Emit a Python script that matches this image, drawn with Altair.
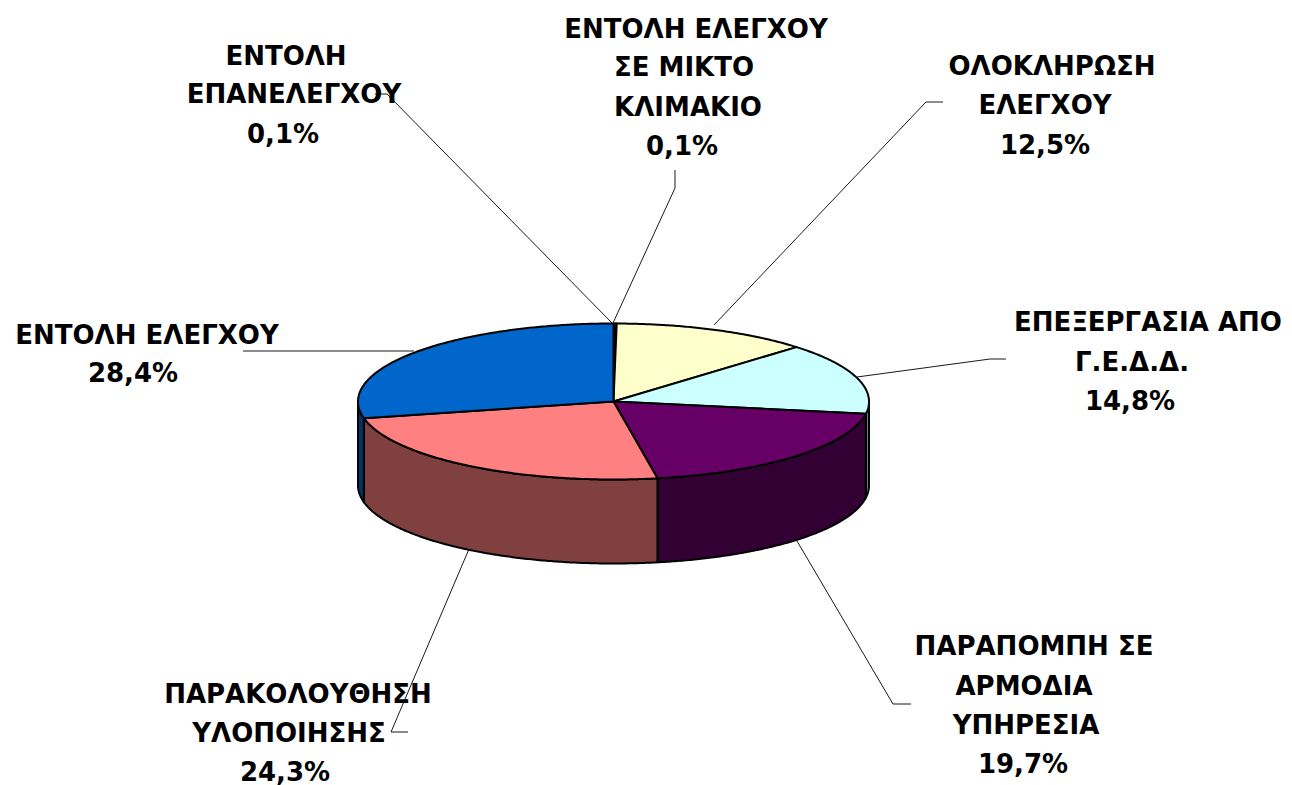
import numpy as np
import pandas as pd
import altair as alt

# ---- data (clockwise from 12 o'clock) ----
categories = ["ΕΝΤΟΛΗ ΕΠΑΝΕΛΕΓΧΟΥ", "ΕΝΤΟΛΗ ΕΛΕΓΧΟΥ ΣΕ ΜΙΚΤΟ ΚΛΙΜΑΚΙΟ", "ΟΛΟΚΛΗΡΩΣΗ ΕΛΕΓΧΟΥ",
              "ΕΠΕΞΕΡΓΑΣΙΑ ΑΠΟ Γ.Ε.Δ.Δ.", "ΠΑΡΑΠΟΜΠΗ ΣΕ ΑΡΜΟΔΙΑ ΥΠΗΡΕΣΙΑ",
              "ΠΑΡΑΚΟΛΟΥΘΗΣΗ ΥΛΟΠΟΙΗΣΗΣ", "ΕΝΤΟΛΗ ΕΛΕΓΧΟΥ"]
values = [0.1, 0.1, 12.5, 14.8, 19.7, 24.3, 28.4]
top_colors = ["#9999FF", "#993366", "#FFFFCC", "#CCFFFF", "#660066", "#FF8080", "#0066CC"]
side_colors = ["#4D4D80", "#4D1A33", "#808066", "#668080", "#330033", "#804040", "#003366"]

# ---- label text and layout (page pixels) ----
label_text = ["ΕΝΤΟΛΗ", "ΕΠΑΝΕΛΕΓΧΟΥ", "0,1%",
              "ΕΝΤΟΛΗ ΕΛΕΓΧΟΥ", "ΣΕ ΜΙΚΤΟ", "ΚΛΙΜΑΚΙΟ", "0,1%",
              "ΟΛΟΚΛΗΡΩΣΗ", "ΕΛΕΓΧΟΥ", "12,5%",
              "ΕΠΕΞΕΡΓΑΣΙΑ ΑΠΟ", "Γ.Ε.Δ.Δ.", "14,8%",
              "ΠΑΡΑΠΟΜΠΗ ΣΕ", "ΑΡΜΟΔΙΑ", "ΥΠΗΡΕΣΙΑ", "19,7%",
              "ΠΑΡΑΚΟΛΟΥΘΗΣΗ", "ΥΛΟΠΟΙΗΣΗΣ", "24,3%",
              "ΕΝΤΟΛΗ ΕΛΕΓΧΟΥ", "28,4%"]
label_x = [286, 294, 283,
           696, 684, 688, 682,
           1052, 1045, 1045,
           1148, 1132, 1130,
           1034, 1024, 1026, 1023,
           298, 289, 285,
           147, 133]
label_y = [55, 93, 133,
           28, 66, 106, 145,
           65, 104, 144,
           321, 361, 400,
           645, 685, 724, 763,
           693, 732, 771,
           334, 372]
leaders = [
    [(375, 94), (387, 94), (612, 323)],
    [(675, 170), (675, 188), (613, 323)],
    [(943, 102), (926, 102), (714, 325)],
    [(1006, 359), (990, 359), (857, 377)],
    [(911, 704), (893, 704), (797, 541)],
    [(408, 732), (391, 732), (469, 549)],
    [(243, 351), (414, 351)],
]

CX, CY, RX, RY, DEPTH = 613.5, 401.5, 255.5, 78.0, 84.0
W, H = 1276, 769

xs = alt.Scale(domain=[8, 8 + W], range=[0, W], nice=False, zero=False)
ys = alt.Scale(domain=[8, 8 + H], range=[0, H], nice=False, zero=False)
X = alt.X("x:Q", scale=xs, axis=None)
Y = alt.Y("y:Q", scale=ys, axis=None)


def polygon_chart(xv, yv, fill):
    df = pd.DataFrame({"x": xv, "y": yv, "o": range(len(xv))})
    return alt.Chart(df).mark_line(
        fill=fill, stroke="black", strokeWidth=2, interpolate="linear-closed", strokeJoin="round"
    ).encode(x=X, y=Y, order="o:Q")


edges = 360 * np.cumsum([0] + values) / sum(values)
walls, tops = [], []
for a0, a1, top, side in zip(edges[:-1], edges[1:], top_colors, side_colors):
    n = max(3, int((a1 - a0) * 2))
    t = np.radians(np.linspace(a0, a1, n))
    ax = CX + RX * np.sin(t)
    ay = CY - RY * np.cos(t)
    tops.append(polygon_chart(np.r_[CX, ax], np.r_[CY, ay], top))
    v0, v1 = max(a0, 90), min(a1, 270)
    if v1 > v0:
        s = np.radians(np.linspace(v0, v1, max(3, int((v1 - v0) * 2))))
        sx = CX + RX * np.sin(s)
        sy = CY - RY * np.cos(s)
        walls.append(polygon_chart(np.r_[sx, sx[::-1]], np.r_[sy, sy[::-1] + DEPTH], side))

lead_rows = [
    {"x": p[0], "y": p[1], "o": j, "k": i}
    for i, pts in enumerate(leaders) for j, p in enumerate(pts)
]
lead = alt.Chart(pd.DataFrame(lead_rows)).mark_line(
    color="#1a1a1a", strokeWidth=1, interpolate="linear"
).encode(x=X, y=Y, order="o:Q", detail="k:N")

labels = alt.Chart(pd.DataFrame({"x": label_x, "y": label_y, "t": label_text})).mark_text(
    font="DejaVu Sans", fontSize=26, fontWeight="bold", color="black",
    align="center", baseline="middle", dy=1.5
).encode(x=X, y=Y, text="t:N")

chart = alt.layer(*walls, *tops, lead, labels).properties(
    width=W, height=H, background="white",
    padding={"left": 0, "top": 0, "right": 0, "bottom": 8},
    autosize=alt.AutoSizeParams(type="none"),
).configure_view(stroke=None)

chart.save("out.html", embed_options={"renderer": "svg", "actions": False})
